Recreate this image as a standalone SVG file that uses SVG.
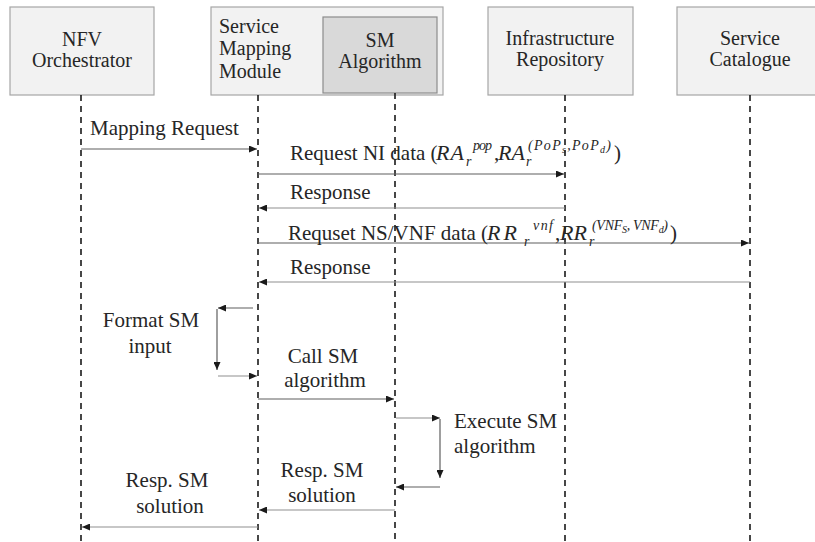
<svg xmlns="http://www.w3.org/2000/svg" width="815" height="542" viewBox="0 0 815 542">
  <style>
    .box { fill: #f2f2f2; stroke: #a6a6a6; stroke-width: 1.2; }
    .inner { fill: #d9d9d9; stroke: #8c8c8c; stroke-width: 1.2; }
    .life { stroke: #1a1a1a; stroke-width: 1.6; stroke-dasharray: 6 5; fill: none; }
    .msg { stroke: #5e5e5e; stroke-width: 1.2; fill: none; marker-end: url(#arr); }
    .rsp { stroke: #8f8f8f; }
    text { font-family: "Liberation Serif", "Times New Roman", serif; font-size: 21px; fill: #262626; }
    .hd { font-size: 20px; }
    .c { text-anchor: middle; }
    .m { font-style: italic; font-size: 22px; }
    .s { font-size: 14px; font-style: italic; }
    .ss { font-size: 10px; font-style: italic; }
  </style>
  <defs>
    <marker id="arr" viewBox="0 0 8 7" refX="8" refY="3.5" markerWidth="8" markerHeight="7" markerUnits="userSpaceOnUse" orient="auto">
      <path d="M0,0 L8,3.5 L0,7 z" fill="#1a1a1a"/>
    </marker>
  </defs>

  <!-- participants -->
  <g id="nfv-orchestrator">
    <rect class="box" x="10" y="7" width="144" height="88"/>
    <text class="c hd" x="82" y="46">NFV</text>
    <text class="c hd" x="82" y="67">Orchestrator</text>
  </g>
  <g id="service-mapping-module">
    <rect class="box" x="211" y="7" width="232" height="88"/>
    <text class="hd" x="219" y="33">Service</text>
    <text class="hd" x="219" y="55">Mapping</text>
    <text class="hd" x="219" y="78">Module</text>
  </g>
  <g id="sm-algorithm">
    <rect class="inner" x="323" y="17" width="114" height="76"/>
    <text class="c hd" x="380" y="47">SM</text>
    <text class="c hd" x="380" y="68">Algorithm</text>
  </g>
  <g id="infrastructure-repository">
    <rect class="box" x="488" y="7" width="145" height="88"/>
    <text class="c hd" x="560" y="45">Infrastructure</text>
    <text class="c hd" x="560" y="66">Repository</text>
  </g>
  <g id="service-catalogue">
    <rect class="box" x="677" y="7" width="146" height="88"/>
    <text class="c hd" x="750" y="45">Service</text>
    <text class="c hd" x="750" y="66">Catalogue</text>
  </g>

  <!-- lifelines -->
  <g id="lifelines">
    <line class="life" x1="81" y1="95" x2="81" y2="542"/>
    <line class="life" x1="258" y1="95" x2="258" y2="542"/>
    <line class="life" x1="395" y1="93" x2="395" y2="542"/>
    <line class="life" x1="565" y1="95" x2="565" y2="542"/>
    <line class="life" x1="750" y1="95" x2="750" y2="542"/>
  </g>

  <!-- messages -->
  <g id="connectors">
    <line class="msg" x1="81" y1="149" x2="257" y2="149"/>
    <line class="msg" x1="258" y1="174" x2="564" y2="174"/>
    <line class="msg rsp" x1="565" y1="208" x2="259" y2="208"/>
    <line class="msg" x1="258" y1="243" x2="749" y2="243"/>
    <line class="msg rsp" x1="750" y1="282" x2="259" y2="282"/>
    <!-- format SM input loop -->
    <line class="msg" x1="253" y1="308" x2="218" y2="308"/>
    <line class="msg" x1="217" y1="309" x2="217" y2="370"/>
    <line class="msg rsp" x1="218" y1="376" x2="257" y2="376"/>
    <line class="msg" x1="258" y1="399" x2="394" y2="399"/>
    <!-- execute SM algorithm loop -->
    <line class="msg rsp" x1="396" y1="418" x2="440" y2="418"/>
    <line class="msg" x1="440" y1="419" x2="440" y2="478"/>
    <line class="msg" x1="440" y1="487" x2="396" y2="487"/>
    <line class="msg rsp" x1="395" y1="510" x2="259" y2="510"/>
    <line class="msg rsp" x1="258" y1="527" x2="82" y2="527"/>
  </g>

  <!-- message labels -->
  <g id="labels">
    <text x="90" y="135">Mapping Request</text>

    <text x="290" y="160">Request NI data (</text>
    <text class="m" x="436" y="160" letter-spacing="1">RA</text>
    <text class="s" x="466" y="166">r</text>
    <text class="s" x="473" y="150" textLength="19">pop</text>
    <text x="494" y="160">,</text>
    <text class="m" x="498" y="160">RA</text>
    <text class="s" x="526" y="166">r</text>
    <text class="s" x="528" y="150" textLength="83" lengthAdjust="spacing">(PoP<tspan class="ss" dy="3">s</tspan><tspan dy="-3">,PoP</tspan><tspan class="ss" dy="3">d</tspan><tspan dy="-3">)</tspan></text>
    <text x="614" y="160">)</text>

    <text x="290" y="199">Response</text>

    <text x="288" y="240">Requset NS/VNF data (</text>
    <text class="m" x="487" y="240" letter-spacing="3">RR</text>
    <text class="s" x="524" y="246">r</text>
    <text class="s" x="533" y="230" textLength="20">vnf</text>
    <text x="555" y="240">,</text>
    <text class="m" x="560" y="240">RR</text>
    <text class="s" x="589" y="246">r</text>
    <text class="s" x="592" y="230" textLength="76" lengthAdjust="spacing">(VNF<tspan class="ss" dy="3">S</tspan><tspan dy="-3">, VNF</tspan><tspan class="ss" dy="3">d</tspan><tspan dy="-3">)</tspan></text>
    <text x="670" y="240">)</text>

    <text x="290" y="274">Response</text>

    <text class="c" x="151" y="327">Format SM</text>
    <text class="c" x="150" y="353">input</text>

    <text class="c" x="323" y="363">Call SM</text>
    <text class="c" x="325" y="387">algorithm</text>

    <text x="454" y="428">Execute SM</text>
    <text x="454" y="453">algorithm</text>

    <text class="c" x="322" y="477">Resp. SM</text>
    <text class="c" x="322" y="502">solution</text>

    <text class="c" x="167" y="487">Resp. SM</text>
    <text class="c" x="170" y="513">solution</text>
  </g>
</svg>
